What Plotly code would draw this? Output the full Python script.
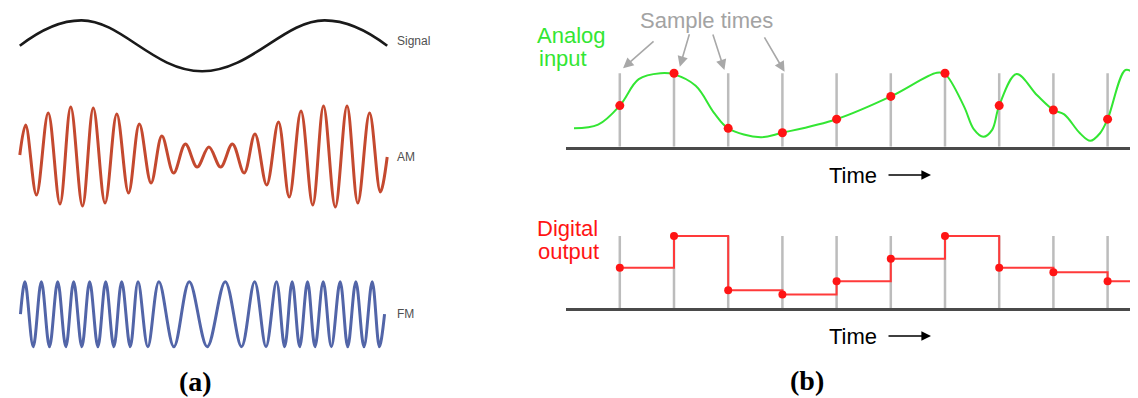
import plotly.graph_objects as go

# page body has an 8 px margin: draw the figure 8 px smaller and shift geometry
OFF = 8
W, H = 1138 - OFF, 398 - OFF

# ---------------- Panel (a): waveform extrema ----------------
# time in ms (message signal period ~250 ms)
signal_t = [0, 63, 186, 311, 375]
signal_v = [0, 1, -1, 1, 0]

am_t = [0, 6, 17, 29, 41, 52, 64, 75, 87, 99, 111, 122, 134, 145, 157, 169, 181,
        193, 205, 217, 229, 240, 252, 264, 275, 287, 299, 310, 322, 334, 345, 357,
        368, 375]
am_v = [0.04, 0.64, -0.76, 0.88, -0.94, 1.0, -0.98, 0.98, -0.92, 0.86, -0.72, 0.66,
        -0.52, 0.42, -0.32, 0.26, -0.2, 0.2, -0.2, 0.26, -0.32, 0.46, -0.56, 0.7,
        -0.8, 0.92, -0.96, 1.02, -1.0, 1.02, -0.92, 0.88, -0.7, 0]

fm_t = [0.7, 5.3, 13.7, 22, 30.3, 38.7, 47, 55, 63.3, 71.3, 79.7, 87.7, 96, 104,
        112.7, 120.7, 130.7, 142, 157.3, 173, 191.3, 209.7, 226.3, 239.7, 251.3,
        262, 270.3, 278, 285.7, 293.7, 301.3, 309.7, 318, 327, 334.7, 343, 351.3,
        359.7, 367, 372.3]
fm_v = [0, 1, -1, 1, -1, 1, -1, 1, -1, 1, -1, 1, -1, 1, -1, 1, -1, 1, -1, 1, -1,
        1, -1, 1, -1, 1, -1, 1, -1, 1, -1, 1, -1, 1, -1, 1, -1, 1, -1, 0]

wave_labels = ["Signal", "AM", "FM"]

# ---------------- Panel (b): sampling ----------------
sample_idx = [0, 1, 2, 3, 4, 5, 6, 7, 8, 9]
sample_v = [0.56, 1.0, 0.25, 0.19, 0.375, 0.685, 1.0, 0.56, 0.5, 0.375]

analog_t = [-0.845, -0.4, 0, 0.35, 0.75, 1, 1.4, 1.75, 2, 2.6, 3, 4, 5, 5.85, 6,
            6.35, 6.53, 6.707, 6.87, 7, 7.32, 7.7, 8, 8.2, 8.49, 8.68, 8.86, 9,
            9.33, 9.49]
analog_v = [0.25, 0.30, 0.56, 0.92, 1.0, 0.985, 0.83, 0.45, 0.25, 0.13, 0.19, 0.375,
            0.685, 1.008, 0.99, 0.55, 0.24, 0.136, 0.23, 0.56, 0.99, 0.70, 0.5, 0.44,
            0.183, 0.08, 0.183, 0.375, 1.045, 1.0]

# ---------------- layout helpers (pixel geometry of the target page) ----------------
def xdom(px_l, px_r):
    return [(px_l - OFF) / W, min(1.0, (px_r - OFF) / W)]

def ydom(px_top, px_bot):
    return [1 - (px_bot - OFF) / H, 1 - (px_top - OFF) / H]

def px(xp, yp):
    return (xp - OFF) / W, 1 - (yp - OFF) / H

# panel b x mapping: sample 0 at 619.8 px, spacing 54.2 px
B0, BS = 619.8, 54.2
b_range = [(566 - B0) / BS, (1138 - B0) / BS]

GREEN = "#33e633"
RED = "#ff1414"
GRAY_LINE = "#bcbcbc"
SANS = "Liberation Sans, Arial, sans-serif"

fig = go.Figure()

# panel (a) traces
fig.add_trace(go.Scatter(x=signal_t, y=signal_v, mode="lines", xaxis="x", yaxis="y",
                         line=dict(color="#1a1a1a", width=2.6, shape="spline", smoothing=1.2),
                         hoverinfo="skip"))
fig.add_trace(go.Scatter(x=am_t, y=am_v, mode="lines", xaxis="x", yaxis="y2",
                         line=dict(color="#c4492f", width=3, shape="spline", smoothing=1.0),
                         hoverinfo="skip"))
fig.add_trace(go.Scatter(x=fm_t, y=fm_v, mode="lines", xaxis="x", yaxis="y3",
                         line=dict(color="#5265a8", width=3, shape="spline", smoothing=1.0),
                         hoverinfo="skip"))

# vertical sample lines (both panels)
vx, vy = [], []
for s in sample_idx:
    vx += [s, s, None]
    vy += [0, 1, None]
for xa, ya in (("x2", "y4"), ("x3", "y5")):
    fig.add_trace(go.Scatter(x=vx, y=vy, mode="lines", xaxis=xa, yaxis=ya,
                             line=dict(color=GRAY_LINE, width=2.5), hoverinfo="skip"))

# analog input curve
fig.add_trace(go.Scatter(x=analog_t, y=analog_v, mode="lines", xaxis="x2", yaxis="y4",
                         line=dict(color=GREEN, width=2, shape="spline", smoothing=1.0),
                         hoverinfo="skip"))
fig.add_trace(go.Scatter(x=sample_idx, y=sample_v, mode="markers", xaxis="x2", yaxis="y4",
                         marker=dict(color=RED, size=9), cliponaxis=False, hoverinfo="skip"))

# digital output step
fig.add_trace(go.Scatter(x=sample_idx + [b_range[1]], y=sample_v + [sample_v[-1]],
                         mode="lines", xaxis="x3", yaxis="y5",
                         line=dict(color="#ff3a3a", width=2, shape="hv"), hoverinfo="skip"))
fig.add_trace(go.Scatter(x=sample_idx, y=sample_v, mode="markers", xaxis="x3", yaxis="y5",
                         marker=dict(color=RED, size=8), cliponaxis=False, hoverinfo="skip"))

hidden = dict(visible=False, showgrid=False, zeroline=False, fixedrange=True)
baxis = dict(range=b_range, domain=xdom(566, 1138), showline=True, linecolor="#4a4a4a",
             linewidth=2.5, showgrid=False, zeroline=False, showticklabels=False,
             ticks="", fixedrange=True)

annotations = []
# waveform labels
for lab, yc in zip(wave_labels, [41, 157, 313.5]):
    x0, y0 = px(395, yc)
    annotations.append(dict(text=lab, x=x0, y=y0, xref="paper", yref="paper",
                            xanchor="left", yanchor="middle", showarrow=False,
                            font=dict(family=SANS, size=12, color="#505050")))

def label(text, xp, yp, color, size, anchor="left", family=SANS):
    x0, y0 = px(xp, yp)
    annotations.append(dict(text=text, x=x0, y=y0, xref="paper", yref="paper",
                            xanchor=anchor, yanchor="middle", showarrow=False,
                            font=dict(family=family, size=size, color=color)))

label("Analog", 535, 36, GREEN, 22)
label("input", 537, 59, GREEN, 22)
label("Digital", 535, 228, RED, 22)
label("output", 536, 251, RED, 22)
label("Sample times", 706, 20, "#a3a3a3", 22, anchor="center")
label("Time", 853, 175, "#000000", 22, anchor="center")
label("Time", 853, 336, "#000000", 22, anchor="center")
label("<b>(a)</b>", 195, 381, "#000000", 28, anchor="center",
      family="Liberation Serif, Times New Roman, serif")
label("<b>(b)</b>", 807, 380, "#000000", 28, anchor="center",
      family="Liberation Serif, Times New Roman, serif")

# sample-time arrows (head in data coords, tail offset in pixels)
for hx, hy, ax, ay in [(0.06, 1.07, 32, -28), (1.107, 1.09, 10, -34),
                       (1.93, 1.045, -12, -37), (3.04, 1.02, -21, -36)]:
    annotations.append(dict(x=hx, y=hy, xref="x2", yref="y4", text="", showarrow=True,
                            ax=ax, ay=ay, arrowhead=2, arrowsize=1.3, arrowwidth=1.6,
                            arrowcolor="#a8a8a8", standoff=0))
# time arrows
for yp in (175, 336):
    x0, y0 = px(931, yp)
    annotations.append(dict(x=x0, y=y0, xref="paper", yref="paper", text="",
                            showarrow=True, ax=-44, ay=0, arrowhead=2, arrowsize=1.2,
                            arrowwidth=1.6, arrowcolor="#000000", standoff=0))

fig.update_layout(
    width=W, height=H, margin=dict(l=0, r=0, t=0, b=0),
    paper_bgcolor="white", plot_bgcolor="rgba(0,0,0,0)", showlegend=False,
    xaxis=dict(range=[-10, 385], domain=xdom(10, 397), anchor="y", **hidden),
    yaxis=dict(range=[-1.4, 1.4], domain=ydom(41.5 - 1.1 * 28.5, 41.5 + 1.4 * 28.5),
               anchor="x", **hidden),
    yaxis2=dict(range=[-1.2, 1.2], domain=ydom(157 - 1.2 * 50, 157 + 1.2 * 50),
                anchor="x", **hidden),
    yaxis3=dict(range=[-1.3, 1.3], domain=ydom(314.2 - 1.3 * 32.5, 314.2 + 1.3 * 32.5),
                anchor="x", **hidden),
    xaxis2=dict(anchor="y4", **baxis),
    yaxis4=dict(range=[0, 1.35], domain=ydom(146.7 - 1.35 * 73.4, 146.7), anchor="x2", **hidden),
    xaxis3=dict(anchor="y5", **baxis),
    yaxis5=dict(range=[0, 1.35], domain=ydom(308.3 - 1.35 * 72.3, 308.3), anchor="x3", **hidden),
    annotations=annotations,
)

fig.write_html("out.html")
